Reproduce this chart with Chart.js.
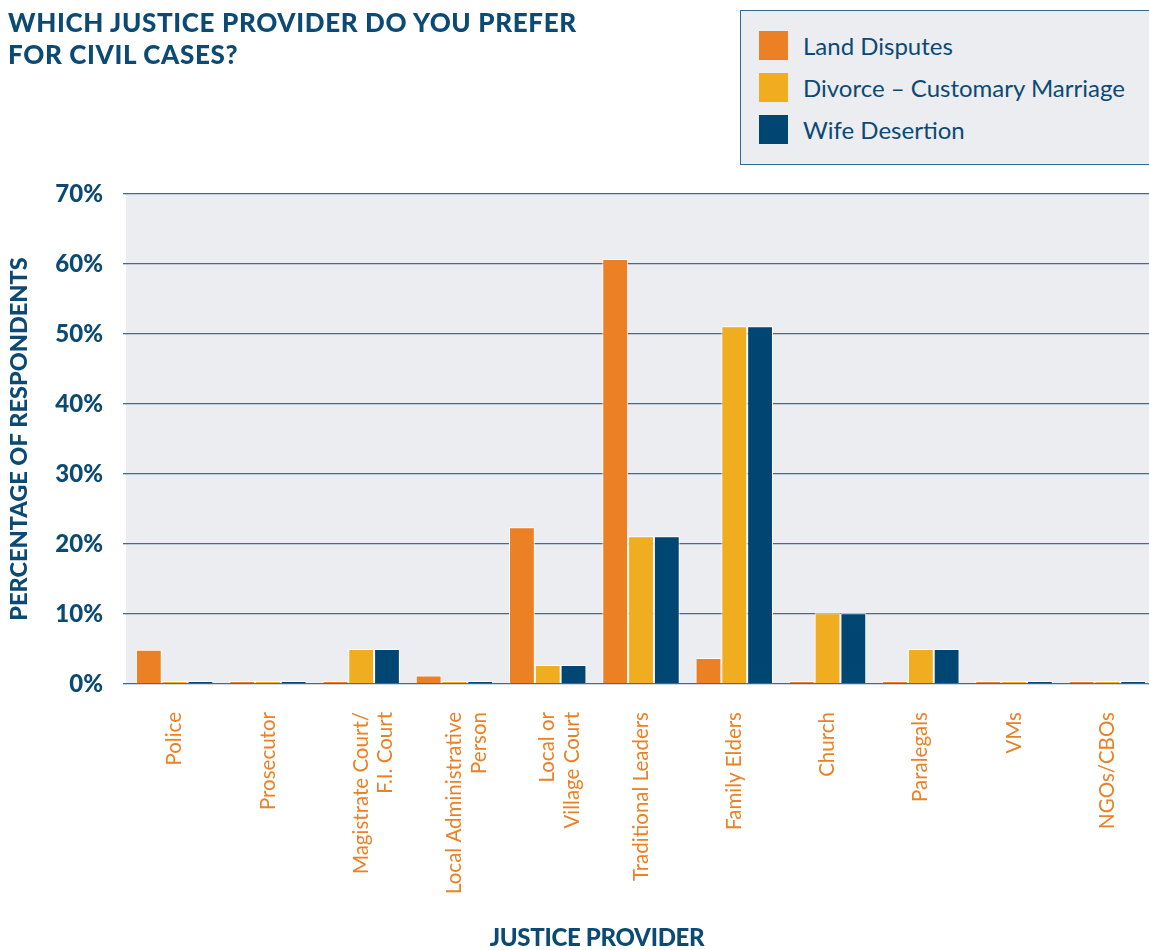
<html lang="en">
<head>
    <meta charset="utf-8"/>
    <title>Which Justice Provider Do You Prefer for Civil Cases?</title>
    <script src="https://cdn.jsdelivr.net/npm/chart.js"></script>
    <style>
        body {
            margin: 0;
            width: 1149px;
            height: 950px;
            overflow: hidden;
            background: #ffffff;
            font-family: 'Lato', sans-serif;
            color: #0b4a74;
            position: relative;
        }
        #chartWrap { position: absolute; left: 0; top: 0; width: 1154px; height: 950px; }
        .title {
            position: absolute; left: 8px; top: 6px;
            font-size: 26px; font-weight: 900; line-height: 32px;
            color: #0b4a74; letter-spacing: 0.65px;
        }
        .legend {
            position: absolute; left: 740px; top: 10px; width: 430px; height: 155px;
            background: #ecedf0; border: 1.5px solid #2e6a93; box-sizing: border-box;
            padding-top: 13px;
        }
        .legend-item { display: flex; align-items: center; height: 42px; padding-left: 18px; }
        .legend-item span.box { width: 29px; height: 29px; margin-right: 15px; }
        .legend-item span.lbl { font-size: 24px; color: #0b4a74; }
        .xtitle {
            position: absolute; left: 597px; top: 922px; transform: translateX(-50%);
            font-size: 24px; font-weight: 900; color: #0b4a74; letter-spacing: -0.3px;
        }
    </style>
</head>
<body>
    <div id="chartWrap"><canvas id="civilChart" width="1154" height="950"></canvas></div>
    <div class="title">WHICH JUSTICE PROVIDER DO YOU PREFER<br/>FOR CIVIL CASES?</div>
    <div class="legend" id="legend"></div>
    <div class="xtitle">JUSTICE PROVIDER</div>

<script>
    // chart data
    const categories = [
        'Police', 'Prosecutor', ['Magistrate Court/', 'F.I. Court'],
        ['Local Administrative', 'Person'], ['Local or', 'Village Court'],
        'Traditional Leaders', 'Family Elders', 'Church', 'Paralegals', 'VMs', 'NGOs/CBOs'
    ];
    const landDisputes = [4.9, 0, 0, 1.2, 22.4, 60.7, 3.7, 0, 0, 0, 0];
    const divorceCustomary = [0, 0, 5, 0, 2.7, 21.1, 51.1, 10.1, 5, 0, 0];
    const wifeDesertion = [0, 0, 5, 0, 2.7, 21.1, 51.1, 10.1, 5, 0, 0];
    const yTicks = [0, 10, 20, 30, 40, 50, 60, 70];

    const navy = '#0b4a74';

    // grey plot background
    const plotBg = {
        id: 'plotBg',
        beforeDraw(chart) {
            const a = chart.chartArea;
            const ctx = chart.ctx;
            ctx.save();
            ctx.fillStyle = '#ecedf0';
            ctx.fillRect(a.left - 2, a.top, a.right - a.left + 2, a.bottom - a.top);
            ctx.restore();
        }
    };

    function bars(label, data, color) {
        return {
            label: label,
            data: data,
            backgroundColor: color,
            borderColor: '#ffffff',
            borderWidth: 1,
            borderSkipped: 'bottom',
            minBarLength: 3,
            categoryPercentage: 0.83,
            barPercentage: 1.0
        };
    }

    const chart = new Chart(document.getElementById('civilChart'), {
        type: 'bar',
        data: {
            labels: categories,
            datasets: [
                bars('Land Disputes', landDisputes, '#ec8024'),
                bars('Divorce \u2013 Customary Marriage', divorceCustomary, '#f0ad1f'),
                bars('Wife Desertion', wifeDesertion, '#004672')
            ]
        },
        options: {
            responsive: false,
            animation: false,
            devicePixelRatio: 1,
            layout: { padding: { top: 194, left: 0, right: 0, bottom: 0 } },
            plugins: {
                legend: { display: false },
                tooltip: { enabled: false }
            },
            scales: {
                x: {
                    grid: { display: false },
                    border: { display: false },
                    ticks: {
                        autoSkip: false,
                        minRotation: 90,
                        maxRotation: 90,
                        padding: 20,
                        color: '#ec8024',
                        font: { family: 'Lato', size: 20.5 }
                    },
                    afterFit(scale) { scale.height = 266; }
                },
                y: {
                    min: 0,
                    max: 70,
                    afterBuildTicks(scale) { scale.ticks = yTicks.map(v => ({ value: v })); },
                    grid: {
                        color: '#3a6e97',
                        lineWidth: 1.3,
                        tickLength: 5,
                        drawTicks: true
                    },
                    border: { display: false },
                    ticks: {
                        padding: 20,
                        color: navy,
                        font: { family: 'Lato', size: 24, weight: '900' },
                        callback: v => v + '%'
                    },
                    title: {
                        display: true,
                        text: 'PERCENTAGE OF RESPONDENTS',
                        color: navy,
                        font: { family: 'Lato', size: 23.5, weight: '900' },
                        padding: { top: 5, bottom: 0 }
                    },
                    afterFit(scale) { scale.width = 128; }
                }
            }
        },
        plugins: [plotBg]
    });

    // HTML legend built from the chart's datasets
    const legendEl = document.getElementById('legend');
    chart.data.datasets.forEach(ds => {
        const item = document.createElement('div');
        item.className = 'legend-item';
        item.innerHTML = '<span class="box" style="background:' + ds.backgroundColor + '"></span>' +
            '<span class="lbl">' + ds.label + '</span>';
        legendEl.appendChild(item);
    });
</script>
</body>
</html>
